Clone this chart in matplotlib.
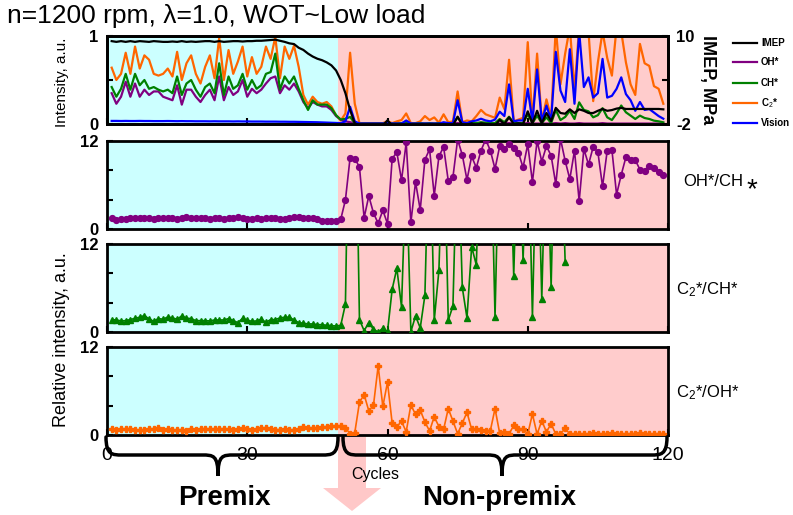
import numpy as np
import matplotlib
matplotlib.use("Agg")
import matplotlib.pyplot as plt
from matplotlib.path import Path
from matplotlib.patches import PathPatch, Polygon
from matplotlib.lines import Line2D

plt.rcParams['font.family'] = ['Liberation Sans', 'DejaVu Sans']
plt.rcParams['mathtext.fontset'] = 'custom'
plt.rcParams['mathtext.rm'] = 'Liberation Sans'
plt.rcParams['mathtext.it'] = 'Liberation Sans:italic'

# ---------------- data ----------------
cycles = np.arange(1, 120)
premix_end = 49.4

imep = [9.3, 9.2, 9.3, 9.2, 9.3, 9.2, 9.3, 9.25, 9.2, 9.3, 9.25, 9.2, 9.2, 9.25, 9.2, 9.3,
        9.2, 9.25, 9.2, 9.25, 9.3, 9.3, 9.2, 9.3, 9.2, 9.25, 9.3, 9.3, 9.25, 9.3, 9.3, 9.35,
        9.35, 9.4, 9.45, 9.5, 9.35, 9.2,
        9.0, 8.9, 8.4, 8.1, 7.6, 7.2, 6.9, 6.7, 6.4, 6.0, 5.3, 4.0, 2.2, -0.1, -1.9,
        -2.2, -2.2, -2.2, -2.2, -2.2, -2.2, -1.5,
        -2.2, -2.2, -2.2, -2.2, -2.2, -2.2, -2.2, -2.2, -2.2, -2.2, -2.2, -2.2, -2.2, -2.2,
        -1.0, -2.2, -2.1, -1.9, -2.2, -1.9, -2.0, -2.1, -2.2,
        -1.45, -2.0, -1.1, -2.0, -1.9, -2.0, -0.27, -1.9, -0.2, -1.9, -0.5, -1.6, 0.2, -0.5,
        -0.6, 0.0, -0.5, 0.0, -0.2, -0.5, -0.5, -0.2, 0.05, -0.2, -0.1, 0.1, 0.2, 0.05,
        0.05, 0.05, 0.05, 0.05, 0.05, 0.05, 0.05, 0.0]

oh = [0.35, 0.23, 0.31, 0.48, 0.31, 0.46, 0.31, 0.39, 0.33, 0.37, 0.37, 0.31, 0.29, 0.27,
      0.44, 0.22, 0.39, 0.39, 0.31, 0.25, 0.33, 0.39, 0.27, 0.54, 0.27, 0.42, 0.33, 0.37,
      0.50, 0.31, 0.40, 0.35, 0.39, 0.46, 0.52, 0.54, 0.35, 0.44, 0.39, 0.46, 0.37, 0.25,
      0.18, 0.25, 0.22, 0.20, 0.20, 0.16, 0.09, 0.05, 0.03,
      0.02, 0.01, 0.005, 0.005, 0.005, 0.005, 0.005, 0.005, 0.005, 0.005,
      0.005, 0.005, 0.005, 0.005, 0.005, 0.005, 0.005, 0.005, 0.005, 0.005,
      0.005, 0.005, 0.005, 0.01, 0.005, 0.005, 0.005, 0.005, 0.005, 0.005,
      0.005, 0.005, 0.005, 0.005, 0.01, 0.005, 0.005, 0.005, 0.01, 0.005,
      0.005, 0.005, 0.005, 0.005, 0.01, 0.005, 0.01, 0.005, 0.005, 0.01,
      0.005, 0.005, 0.005, 0.005, 0.01, 0.005, 0.005, 0.005, 0.005, 0.005,
      0.005, 0.005, 0.005, 0.005, 0.005, 0.005, 0.005, 0.005]

ch = [0.42, 0.31, 0.40, 0.57, 0.39, 0.57, 0.44, 0.50, 0.40, 0.42, 0.39, 0.37, 0.39, 0.35,
      0.54, 0.33, 0.46, 0.50, 0.39, 0.31, 0.42, 0.46, 0.35, 0.69, 0.33, 0.54, 0.40, 0.44,
      0.57, 0.39, 0.50, 0.40, 0.44, 0.57, 0.59, 0.80, 0.39, 0.54, 0.46, 0.54, 0.40, 0.27,
      0.16, 0.27, 0.22, 0.22, 0.22, 0.18, 0.10, 0.05, 0.06,
      0.08, 0.01, 0.005, 0.005, 0.005, 0.005, 0.005, 0.005,
      0.01, 0.005, 0.005, 0.01, 0.02, 0.005, 0.005, 0.01, 0.005, 0.01, 0.005, 0.01,
      0.01, 0.005, 0.005, 0.076, 0.01, 0.005, 0.01, 0.01, 0.02, 0.015, 0.01, 0.01,
      0.057, 0.02, 0.083, 0.01, 0.01, 0.01, 0.11, 0.01, 0.095, 0.01, 0.076, 0.01,
      0.16, 0.045, 0.08, 0.15, 0.057, 0.246, 0.16, 0.144, 0.076, 0.10, 0.18, 0.076,
      0.045, 0.12, 0.21, 0.133, 0.095, 0.057, 0.095, 0.068, 0.057, 0.038, 0.03, 0.019]

c2 = [0.64, 0.50, 0.57, 0.81, 0.57, 0.88, 0.63, 0.78, 0.73, 0.57, 0.55, 0.57, 0.63, 0.54,
      0.82, 0.50, 0.69, 0.78, 0.57, 0.46, 0.65, 0.78, 0.52, 0.98, 0.50, 0.84, 0.57, 0.71,
      0.88, 0.54, 0.76, 0.57, 0.65, 0.88, 0.74, 0.99, 0.52, 0.88, 0.74, 0.89, 0.65, 0.33,
      0.22, 0.31, 0.25, 0.23, 0.25, 0.20, 0.10, 0.04, 0.12,
      0.81, 0.23, 0.01, 0.01, 0.01, 0.01, 0.01, 0.01,
      0.03, 0.01, 0.03, 0.045, 0.12, 0.01, 0.01, 0.03, 0.09, 0.045, 0.075, 0.015,
      0.11, 0.02, 0.03, 0.37, 0.02, 0.04, 0.03, 0.09, 0.16, 0.11, 0.09, 0.07,
      0.30, 0.17, 0.73, 0.03, 0.05, 0.07, 0.93, 0.03, 0.80, 0.03, 0.28, 0.07,
      1.1, 0.45, 0.8, 1.1, 0.38, 1.1, 1.1, 1.05, 0.26, 0.7, 1.05, 0.75,
      0.55, 1.1, 1.05, 0.7, 0.45, 0.33, 0.91, 0.69, 0.66, 0.43, 0.40, 0.23]

vision = [0.035, 0.035, 0.034, 0.035, 0.034, 0.034, 0.035, 0.034, 0.034, 0.033,
          0.033, 0.033, 0.034, 0.033, 0.032, 0.033, 0.032, 0.032, 0.031, 0.031,
          0.031, 0.030, 0.031, 0.030, 0.030, 0.030, 0.029, 0.030, 0.029, 0.029,
          0.028, 0.028, 0.028, 0.027, 0.027, 0.027, 0.026, 0.026, 0.025, 0.025,
          0.024, 0.023, 0.022, 0.021, 0.020, 0.018, 0.016, 0.014, 0.012, 0.010, 0.030,
          0.196, 0.03, 0.005, 0.005, 0.005, 0.005, 0.005, 0.005,
          0.01, 0.005, 0.005, 0.005, 0.04, 0.005, 0.005, 0.005, 0.005, 0.005, 0.005, 0.005,
          0.02, 0.01, 0.01, 0.27, 0.02, 0.01, 0.03, 0.04, 0.06, 0.04, 0.03, 0.05,
          0.14, 0.09, 0.45, 0.03, 0.04, 0.04, 0.40, 0.03, 0.62, 0.03, 0.21, 0.04,
          0.82, 0.38, 0.25, 0.85, 0.23, 1.05, 0.42, 0.53, 0.30, 0.35, 0.74, 0.30,
          0.32, 0.40, 0.53, 0.34, 0.27, 0.15, 0.25, 0.16, 0.17, 0.13, 0.09, 0.06]

oh_ch = [1.46, 1.27, 1.36, 1.41, 1.46, 1.46, 1.50, 1.55, 1.46, 1.41, 1.46, 1.50, 1.50, 1.46,
         1.41, 1.46, 1.64, 1.50, 1.46, 1.50, 1.50, 1.36, 1.50, 1.50, 1.32, 1.55, 1.50, 1.64,
         1.46, 1.36, 1.41, 1.46, 1.41, 1.50, 1.50, 1.55, 1.41, 1.32, 1.50, 1.64, 1.64, 1.50,
         1.50, 1.50, 1.36, 1.09, 1.09, 1.09, 1.05,
         1.32, 3.96, 9.73, 9.6, 8.46, 1.54, 4.5, 2.18, 0.77, 2.55,
         0.73, 9.6, 10.46, 6.64, 11.8, 0.9, 6.4, 2.6, 9.45, 10.87,
         4.55, 9.9, 11.2, 6.55, 7.1, 12.2, 10.1, 6.7, 9.9, 8.36,
         10.7, 12.2, 10.7, 8.2, 11.3, 10.9, 11.55, 11.1, 10.4, 8.4,
         11.55, 6.4, 12.0, 9.2, 11.3, 10.0, 6.1, 12.3, 9.3, 6.8,
         10.7, 3.8, 10.9, 8.8, 11.2, 10.5, 5.8, 10.7, 10.8, 4.7,
         7.4, 9.8, 9.4, 9.4, 8.1, 7.9, 8.6, 8.3, 7.8, 7.4]

nan = np.nan
c2_ch = [1.69, 1.64, 1.51, 1.55, 1.69, 1.87, 2.01, 2.24, 1.78, 1.46, 1.83, 1.74, 2.05, 1.92,
         1.74, 2.19, 1.87, 1.83, 1.55, 1.55, 1.55, 1.51, 1.64, 1.64, 1.64, 1.83, 1.55, 1.28,
         1.87, 1.60, 1.46, 1.51, 1.74, 1.32, 1.69, 1.69, 1.92, 2.01, 2.01, 1.64, 1.28, 1.19,
         1.10, 1.10, 1.00, 1.00, 0.91, 0.87, 0.82,
         0.91, 3.8, 42.0, 40.0, 1.69, 0.18, 1.28, 0.37, 0.0, 0.5,
         0.05, 5.84, 8.68, 3.42, 23.0, 0.05, 2.19, 0.55, 5.0, 30.0,
         1.6, 8.45, 30.0, 1.6, 3.56, 28.0, 6.07, 1.92, 11.64, 9.13,
         30.0, 35.0, 30.0, 2.05, 30.0, 35.0, 30.0, 7.67, 30.0, 9.8,
         30.0, 2.05, 30.0, 4.5, 30.0, 6.1, 35.0, 30.0, 9.6,
         nan, nan, nan, nan, nan, nan, nan, nan, nan, nan,
         nan, nan, nan, nan, nan, nan, nan, nan, nan, nan, nan]

c2_oh = [0.77, 0.68, 0.77, 0.86, 0.77, 0.73, 0.68, 0.64, 0.77, 0.86, 0.95, 0.68, 0.77, 0.68,
         0.68, 0.73, 0.59, 0.77, 0.73, 0.77, 0.77, 0.82, 0.82, 0.82, 0.77, 0.77, 0.73, 0.77,
         0.91, 0.82, 0.73, 0.77, 0.91, 0.91, 0.86, 0.73, 0.73, 0.77, 0.68, 0.73, 0.86, 1.05,
         0.95, 0.95, 1.00, 1.09, 1.14, 1.23, 1.27,
         1.23, 1.0, 0.14, 0.32, 4.45, 5.5, 3.3, 4.05, 9.4, 3.9,
         7.2, 1.6, 1.14, 1.86, 0.45, 4.1, 2.8, 3.4, 1.77, 0.55,
         2.5, 1.14, 0.77, 3.6, 1.9, 0.18, 1.6, 3.1, 0.77, 0.86,
         0.73, 0.6, 0.6, 3.6, 0.23, 0.36, 0.14, 1.3, 0.77, 0.82,
         0.14, 2.86, 0.1, 1.95, 0.41, 1.55, 0.1, 0.14, 0.9, 0.14,
         0.14, 0.14, 0.1, 0.14, 0.3, 0.2, 0.14, 0.14, 0.3, 0.2,
         0.1, 0.1, 0.14, 0.18, 0.28, 0.14, 0.14, 0.14, 0.18, 0.18]

x_ticks = [0, 30, 60, 90, 120]

# ---------------- styling ----------------
CYAN = '#CCFFFF'
PINK = '#FFCCCC'
C_IMEP = 'black'
C_OH = '#800080'
C_CH = '#008000'
C_C2 = '#FF6600'
C_VIS = '#0000FF'

W, H = 793, 515
fig = plt.figure(figsize=(W / 100, H / 100), dpi=100)


def fx(px):
    return px / W


def fy(py):
    return 1 - py / H


def make_panel(top, bottom):
    ax = fig.add_axes([fx(107), fy(bottom), fx(668) - fx(107), (bottom - top) / H])
    ax.set_xlim(0, 120)
    ax.axvspan(0, premix_end, color=CYAN, lw=0, zorder=0)
    ax.axvspan(premix_end, 120, color=PINK, lw=0, zorder=0)
    for s in ax.spines.values():
        s.set_linewidth(2.0)
    ax.set_xticks(x_ticks)
    ax.tick_params(axis='both', direction='in', length=4, width=1.5)
    ax.tick_params(axis='x', labelbottom=False)
    return ax


# top panel: emission intensities and IMEP
ax1 = make_panel(36, 124)
ax1.set_ylim(0, 1)
ax1.plot(cycles, oh, color=C_OH, lw=1.6, zorder=3)
ax1.plot(cycles, ch, color=C_CH, lw=1.6, zorder=3)
ax1.plot(cycles, c2, color=C_C2, lw=1.6, zorder=2)
ax1.plot(cycles, vision, color=C_VIS, lw=1.6, zorder=3)
ax1.set_yticks([0, 0.5, 1])
ax1.set_yticklabels(['0', '', '1'], fontsize=12, fontweight='bold')
ax1.tick_params(axis='y', pad=6)

ax1r = ax1.twinx()
ax1r.set_ylim(-2, 10)
ax1r.plot(cycles, imep, color=C_IMEP, lw=1.6)
ax1r.set_yticks([-2, 4, 10])
ax1r.set_yticklabels(['-2', '', '10'], fontsize=12, fontweight='bold')
ax1r.tick_params(axis='y', direction='in', length=4, width=1.5, pad=6)
for s in ax1r.spines.values():
    s.set_linewidth(2.0)

# ratio panels
ratio_panels = [
    ((141, 229), oh_ch, C_OH, 'o'),
    ((244, 332), c2_ch, C_CH, '^'),
    ((347, 435), c2_oh, C_C2, 'P'),
]
axes = []
for (top, bottom), vals, col, mk in ratio_panels:
    ax = make_panel(top, bottom)
    ax.set_ylim(0, 12)
    ax.plot(cycles, vals, color=col, lw=1.2, marker=mk, ms=4.2, mec=col, mfc=col, zorder=3)
    ax.set_yticks([0, 4, 8, 12])
    ax.set_yticklabels(['0', '', '', '12'], fontsize=12, fontweight='bold')
    ax.tick_params(axis='y', pad=6)
    axes.append(ax)

ax4 = axes[-1]
ax4.tick_params(axis='x', labelbottom=True, labelsize=14, pad=9)

# axis titles
fig.text(fx(7), fy(16), 'n=1200 rpm, \u03bb=1.0, WOT~Low load', fontsize=19,
         ha='left', va='center')
fig.text(fx(62), fy(82), 'Intensity, a.u.', fontsize=11, rotation=90,
         ha='center', va='center')
fig.text(fx(62), fy(340), 'Relative intensity, a.u.', fontsize=13, rotation=90,
         ha='center', va='center')
fig.text(fx(708), fy(80), 'IMEP, MPa', fontsize=13, fontweight='bold',
         rotation=270, ha='center', va='center')

# ratio labels
fig.text(fx(683), fy(182), 'OH*/CH', fontsize=12, ha='left', va='center')
fig.text(fx(747), fy(190), '*', fontsize=20, ha='left', va='center')
fig.text(fx(676), fy(290), r'C$_2$*/CH*', fontsize=12, ha='left', va='center')
fig.text(fx(676), fy(393), r'C$_2$*/OH*', fontsize=12, ha='left', va='center')

# legend
legend_items = [('IMEP', C_IMEP, 43), ('OH*', C_OH, 62), ('CH*', C_CH, 83),
                (r'C$_2$*', C_C2, 103), ('Vision', C_VIS, 123)]
for label, col, ypx in legend_items:
    fig.add_artist(Line2D([fx(733), fx(757)], [fy(ypx), fy(ypx)], color=col, lw=1.6))
    fig.text(fx(761), fy(ypx), label, fontsize=7, fontweight='bold',
             ha='left', va='center')

# arrow pointing down at the transition
arrow_px = [(338, 437), (366, 437), (366, 488), (381, 488), (352, 511), (323, 488), (338, 488)]
fig.add_artist(Polygon([(fx(x), fy(y)) for x, y in arrow_px], closed=True,
                       facecolor='#FFC8C8', edgecolor='none', zorder=0))


def brace(x0, x1, xt, ytop=437, ymid=455, ytip=476, q=16):
    pts = [(x0, ytop), (x0, ymid), (x0 + q * 0.4, ymid), (x0 + q, ymid),
           (xt - q, ymid),
           (xt - q * 0.3, ymid), (xt, ymid), (xt, ytip),
           (xt, ymid), (xt + q * 0.3, ymid), (xt + q, ymid),
           (x1 - q, ymid),
           (x1 - q * 0.4, ymid), (x1, ymid), (x1, ytop)]
    codes = [Path.MOVETO, Path.CURVE4, Path.CURVE4, Path.CURVE4,
             Path.LINETO,
             Path.CURVE4, Path.CURVE4, Path.CURVE4,
             Path.CURVE4, Path.CURVE4, Path.CURVE4,
             Path.LINETO,
             Path.CURVE4, Path.CURVE4, Path.CURVE4]
    p = Path([(fx(x), fy(y)) for x, y in pts], codes)
    fig.add_artist(PathPatch(p, transform=fig.transFigure, facecolor='none',
                             edgecolor='black', lw=2.5, capstyle='round', zorder=5))


brace(106, 338, 218)
brace(343, 667, 502)

fig.text(fx(375), fy(474), 'Cycles', fontsize=11.5, ha='center', va='center')
fig.text(fx(224), fy(498), 'Premix', fontsize=20, fontweight='bold', ha='center', va='center')
fig.text(fx(499), fy(498), 'Non-premix', fontsize=20, fontweight='bold', ha='center', va='center')

fig.savefig('out.png', dpi=100)
